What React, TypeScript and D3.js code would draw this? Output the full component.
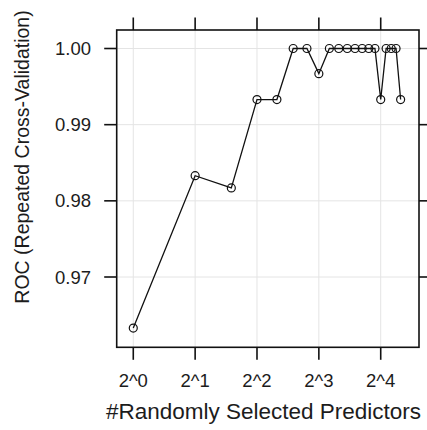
import React from "react";
import * as d3 from "d3";

// Tuning grid: number of randomly selected predictors (mtry) and resampled ROC
const mtry = [1, 2, 3, 4, 5, 6, 7, 8, 9, 10, 11, 12, 13, 14, 15, 16, 17, 18, 19, 20];
const roc = [
  0.9633, 0.9833, 0.9817, 0.9933, 0.9933, 1.0, 1.0, 0.9967, 1.0, 1.0,
  1.0, 1.0, 1.0, 1.0, 1.0, 0.9933, 1.0, 1.0, 1.0, 0.9933,
];
const xTicks = [1, 2, 4, 8, 16];
const xTickLabels = ["2^0", "2^1", "2^2", "2^3", "2^4"];
const yTicks = [0.97, 0.98, 0.99, 1.0];
const yTickLabels = ["0.97", "0.98", "0.99", "1.00"];
const xTitle = "#Randomly Selected Predictors";
const yTitle = "ROC (Repeated Cross-Validation)";

const W = 427;
const H = 430;
const box = { left: 116.7, right: 419, top: 30, bottom: 347.3 };
const font = "'Liberation Sans', Arial, sans-serif";

export default function App() {
  const x = d3
    .scaleLog()
    .base(2)
    .domain([Math.pow(2, -0.268), Math.pow(2, 4.619)])
    .range([box.left, box.right]);
  const y = d3
    .scaleLinear()
    .domain([0.96077, 1.00243])
    .range([box.bottom, box.top]);

  const pts = mtry.map((m, i) => [m, roc[i]] as [number, number]);
  const line = d3
    .line<[number, number]>()
    .x((d) => x(d[0]))
    .y((d) => y(d[1]));

  const tickLen = 12.5;
  const ink = "#1c1c1c";

  return (
    <svg
      width={W}
      height={H}
      style={{ position: "absolute", left: 0, top: 0, background: "#fff" }}
    >
      <rect x={0} y={0} width={W} height={H} fill="#fff" />
      {/* reference grid */}
      <g stroke="#e4e4e4" strokeWidth={1}>
        {xTicks.map((t) => (
          <line key={"gx" + t} x1={x(t)} x2={x(t)} y1={box.top} y2={box.bottom} />
        ))}
        {yTicks.map((t) => (
          <line key={"gy" + t} x1={box.left} x2={box.right} y1={y(t)} y2={y(t)} />
        ))}
      </g>

      {/* series */}
      <path d={line(pts) || ""} fill="none" stroke="#111" strokeWidth={1.3} />
      {pts.map((p, i) => (
        <circle
          key={i}
          cx={x(p[0])}
          cy={y(p[1])}
          r={4}
          fill="none"
          stroke="#111"
          strokeWidth={1.2}
        />
      ))}

      {/* panel border */}
      <rect
        x={box.left}
        y={box.top}
        width={box.right - box.left}
        height={box.bottom - box.top}
        fill="none"
        stroke="#111"
        strokeWidth={1.6}
      />

      {/* ticks on all four sides */}
      <g stroke="#111" strokeWidth={1.6}>
        {xTicks.map((t) => (
          <g key={"tx" + t}>
            <line x1={x(t)} x2={x(t)} y1={box.bottom} y2={box.bottom + tickLen} />
            <line x1={x(t)} x2={x(t)} y1={box.top} y2={box.top - tickLen} />
          </g>
        ))}
        {yTicks.map((t) => (
          <g key={"ty" + t}>
            <line x1={box.left} x2={box.left - tickLen} y1={y(t)} y2={y(t)} />
            <line x1={box.right} x2={box.right + tickLen} y1={y(t)} y2={y(t)} />
          </g>
        ))}
      </g>

      {/* tick labels */}
      <g fontFamily={font} fontSize={18.5} fill={ink}>
        {xTicks.map((t, i) => (
          <text key={"lx" + t} x={x(t)} y={387} textAnchor="middle">
            {xTickLabels[i]}
          </text>
        ))}
        {yTicks.map((t, i) => (
          <text
            key={"ly" + t}
            x={91}
            y={y(t)}
            textAnchor="end"
            dominantBaseline="central"
          >
            {yTickLabels[i]}
          </text>
        ))}
      </g>

      {/* axis titles */}
      <text
        x={263.5}
        y={419}
        textAnchor="middle"
        fontFamily={font}
        fontSize={22.5}
        fill={ink}
      >
        {xTitle}
      </text>
      <text
        transform={`translate(29, 157) rotate(-90)`}
        textAnchor="middle"
        fontFamily={font}
        fontSize={19.5}
        fill={ink}
      >
        {yTitle}
      </text>
    </svg>
  );
}
